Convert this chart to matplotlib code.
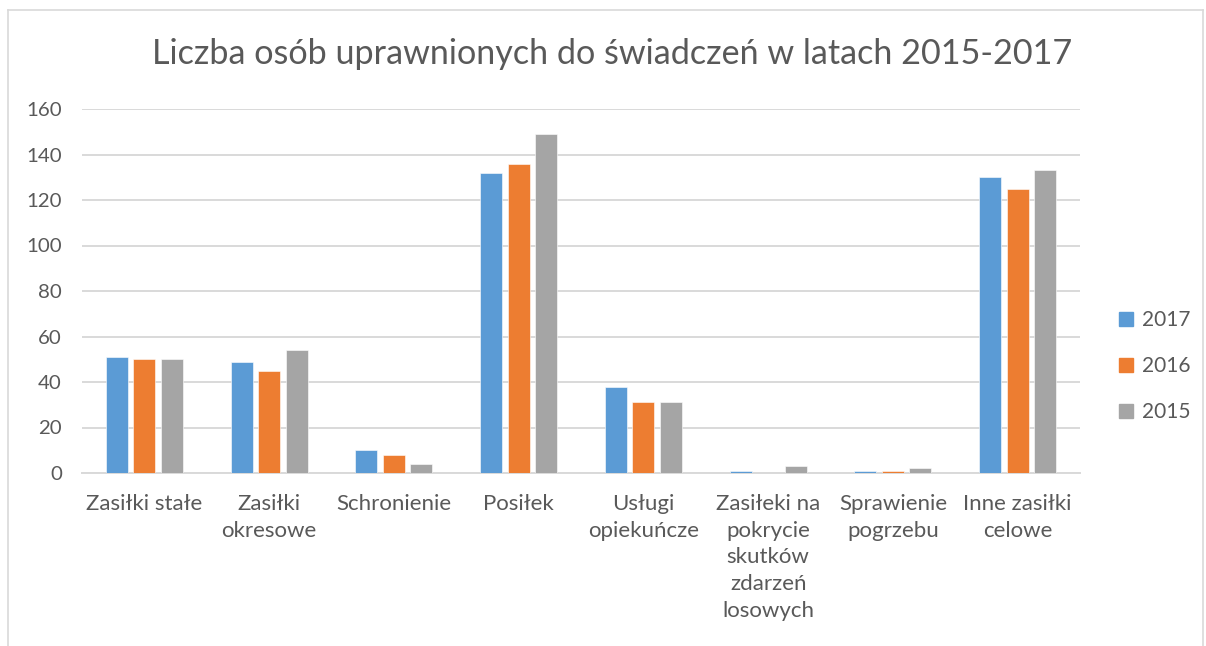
import matplotlib
matplotlib.use("Agg")
import matplotlib.pyplot as plt
import numpy as np
from matplotlib.lines import Line2D

categories = ["Zasiłki stałe", "Zasiłki\nokresowe", "Schronienie", "Posiłek",
              "Usługi\nopiekuńcze", "Zasiłeki na\npokrycie\nskutków\nzdarzeń\nlosowych",
              "Sprawienie\npogrzebu", "Inne zasiłki\ncelowe"]
series_names = ["2017", "2016", "2015"]
v2017 = [51, 49, 10, 132, 38, 1, 1, 130]
v2016 = [50, 45, 8, 136, 31, 0, 1, 125]
v2015 = [50, 54, 4, 149, 31, 3, 2, 133]
yticks = [0, 20, 40, 60, 80, 100, 120, 140, 160]
colors = ["#5b9bd5", "#ed7d31", "#a5a5a5"]

plt.rcParams['font.family'] = ['Lato', 'DejaVu Sans']
fig = plt.figure(figsize=(12.06, 6.46), dpi=100)
ax = fig.add_axes([82/1206, 1-473/646, (1080-82)/1206, (473-109)/646])

x = np.arange(len(categories))
w = 0.176
step = 0.22
for i, (vals, c) in enumerate(zip([v2017, v2016, v2015], colors)):
    ax.bar(x + (i-1)*step, vals, width=w, color=c, edgecolor="white", linewidth=0.4, zorder=3)

ax.set_xlim(-0.5, len(categories)-0.5)
ax.set_ylim(0, 160)
ax.set_yticks(yticks)
ax.set_xticks(x)
ax.set_xticklabels(categories, fontsize=16, color="#595959", linespacing=1.42, va="top")
ax.tick_params(axis='y', labelsize=14.7, labelcolor="#595959", length=0, pad=14.5)
ax.tick_params(axis='x', length=0, pad=15)
ax.grid(axis='y', color="#d9d9d9", linewidth=1.4, zorder=0)
for s in ["top", "right", "left"]:
    ax.spines[s].set_visible(False)
ax.spines["bottom"].set_color("#d9d9d9")
ax.spines["bottom"].set_linewidth(1.4)

fig.text(612/1206, 1-54/646, "Liczba osób uprawnionych do świadczeń w latach 2015-2017",
         ha="center", va="center", fontsize=24.6, color="#595959")

handles = [Line2D([0], [0], marker="s", linestyle="none", markersize=10,
                  markerfacecolor=c, markeredgecolor=c) for c in colors]
leg = fig.legend(handles, series_names, loc="center left",
                 bbox_to_anchor=(1097/1206, 1-366/646), frameon=False,
                 fontsize=15, labelspacing=1.25, handletextpad=0.25, handlelength=1.0)
for t in leg.get_texts():
    t.set_color("#595959")

# outer chart frame
fig.add_artist(Line2D([8/1206, 8/1206], [0, 1-10/646], transform=fig.transFigure, color="#d9d9d9", lw=1.2))
fig.add_artist(Line2D([8/1206, 1203/1206], [1-10/646, 1-10/646], transform=fig.transFigure, color="#d9d9d9", lw=1.2))
fig.add_artist(Line2D([1203/1206, 1203/1206], [0, 1-10/646], transform=fig.transFigure, color="#d9d9d9", lw=1.2))

fig.savefig("out.png", dpi=100)
